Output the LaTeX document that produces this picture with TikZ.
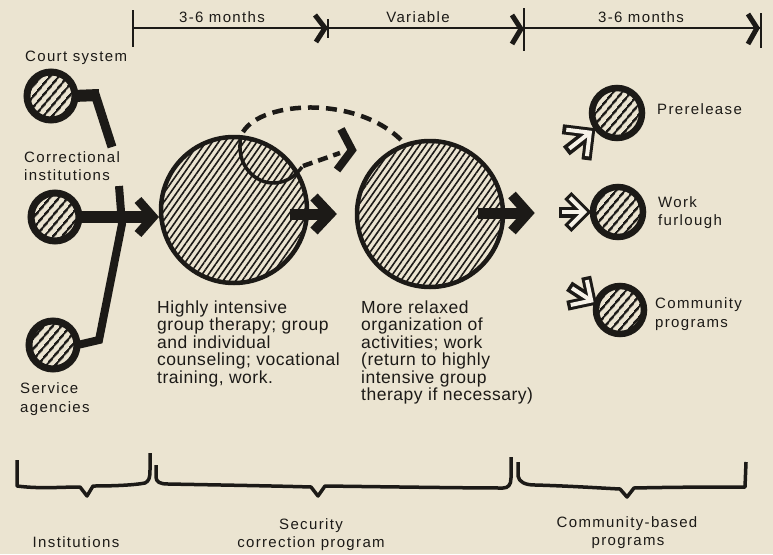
\documentclass[tikz,border=0pt]{standalone}
\usepackage{fontspec}
\setmainfont{Liberation Sans}
\newfontfamily\labf{Liberation Sans}[LetterSpace=9]
\newfontfamily\descf{Liberation Sans}[LetterSpace=3]
\usetikzlibrary{patterns.meta}
\definecolor{paper}{RGB}{235,228,209}
\definecolor{ink}{RGB}{28,26,23}
\definecolor{hole}{RGB}{246,242,232}
\tikzset{
  bigcirc/.style={circle, draw=ink, line width=4.5pt, minimum size=146pt, inner sep=0pt,
    pattern={Lines[angle=55,distance=5.2pt,line width=1.6pt]}, pattern color=ink},
  smallcirc/.style={circle, draw=ink, line width=7pt, minimum size=48pt, inner sep=0pt,
    pattern={Lines[angle=50,distance=6.5pt,line width=2.6pt]}, pattern color=ink},
  lab/.style={font=\labf\fontsize{15}{18}\selectfont, text=ink, inner sep=0pt, anchor=base west},
  labc/.style={font=\labf\fontsize{15}{18}\selectfont, text=ink, inner sep=0pt, anchor=base},
  desc/.style={font=\descf\fontsize{17.5}{17.4}\selectfont, text=ink, inner sep=0pt, anchor=base west},
  inkline/.style={draw=ink, line join=miter},
  openarr/.pic={
    \draw[ink, line width=11pt] (-30,0) -- (-9,0);
    \draw[ink, line width=10pt, line join=miter] (-22,-15) -- (-7,0) -- (-22,15);
    \draw[hole, line width=4pt] (-27,0) -- (-9,0);
    \draw[hole, line width=4pt, line join=miter] (-19.9,-12.9) -- (-7,0) -- (-19.9,12.9);
  }
}
\begin{document}
\begin{tikzpicture}[x=1pt,y=-1pt]
\fill[paper] (0,0) rectangle (773,554);
\useasboundingbox (0,0) rectangle (773,554);

% timeline
\draw[inkline, line width=2pt] (133,28) -- (762,28);
\draw[inkline, line width=2.2pt] (133,10) -- (133,47);
\draw[inkline, line width=5pt] (315,15) -- (325,28) -- (316,42);
\draw[inkline, line width=2pt] (328,19) -- (328,38);
\draw[inkline, line width=5pt] (512,15) -- (521,29) -- (512,44);
\draw[inkline, line width=2pt] (524,8) -- (524,51);
\draw[inkline, line width=5pt] (748,14) -- (757,28) -- (748,44);
\draw[inkline, line width=2pt] (761,13) -- (761,48);
\node[labc] (t1) at (222,22) {3-6 months};
\node[labc] (t2) at (418,22) {Variable};
\node[labc] (t3) at (641,23) {3-6 months};

% left circles
\node[smallcirc] (court) at (51,96) {};
\node[smallcirc] (corr) at (55,217) {};
\node[smallcirc] (serv) at (53,345) {};
\node[lab] (lcourt) at (25,61) {Court system};
\node[lab] (lcorr1) at (24,162) {Correctional};
\node[lab] (lcorr2) at (24,180) {institutions};
\node[lab] (lserv1) at (20,393) {Service};
\node[lab] (lserv2) at (20,412) {agencies};

% left connectors
\draw[inkline, line width=12pt] ([xshift=-3pt]court.east) -- (99,95);
\draw[inkline, line width=9pt] (94,91) -- (112,147);
\draw[inkline, line width=8pt] (119,186) -- (122,224) -- (99,340) -- ([xshift=-3pt]serv.east);
\draw[inkline, line width=12pt] ([xshift=-3pt]corr.east) -- (150,217);
\draw[inkline, line width=9pt] (138,200) -- (153,217) -- (138,234);

% big circles
\node[bigcirc] (c1) at (234,210) {};
\node[bigcirc] (c2) at (430,214) {};

% inner arc and dashed links
\draw[inkline, line width=3.5pt] (241,136) .. controls (235,165) and (255,184) .. (275,183) .. controls (288,182) and (296,175) .. (302,167);
\draw[inkline, line width=4.5pt, dash pattern=on 11pt off 7pt] (243,132) .. controls (262,100) and (360,95) .. (c2.110);
\draw[inkline, line width=4.5pt, dash pattern=on 10pt off 6pt] (303,166) -- (340,153);
\draw[inkline, line width=8pt] (341,129) -- (352,150) -- (337,170);

% solid arrows between circles
\draw[inkline, line width=11pt] (290,214) -- (325,214);
\draw[inkline, line width=10pt] (314,197) -- (330,214) -- (314,231);
\draw[inkline, line width=11pt] (478,213) -- (522,213);
\draw[inkline, line width=10pt] (512,195) -- (528,213) -- (512,231);

% right circles
\node[smallcirc, minimum size=50pt, line width=6.5pt] (pre) at (617,113) {};
\node[smallcirc, minimum size=50pt, line width=6.5pt] (work) at (618,212) {};
\node[smallcirc, minimum size=48pt, line width=6.5pt] (comm) at (620,310) {};
\pic[rotate=38, scale=1.3] at (597,127) {openarr};
\pic[scale=1.1] at (592,212) {openarr};
\pic[rotate=-33, scale=1.15] at (598,305) {openarr};
\node[lab] (lpre) at (657,114) {Prerelease};
\node[lab] (lwork1) at (658,207) {Work};
\node[lab] (lwork2) at (658,225) {furlough};
\node[lab] (lcomm1) at (655,308) {Community};
\node[lab] (lcomm2) at (655,327) {programs};

% descriptions
\node[desc] (d11) at (157,313) {Highly intensive};
\node[desc] (d12) at (157,330.5) {group therapy; group};
\node[desc] (d13) at (157,348) {and individual};
\node[desc] (d14) at (157,365.5) {counseling; vocational};
\node[desc] (d15) at (157,383) {training, work.};
\node[desc] (d21) at (361,313) {More relaxed};
\node[desc] (d22) at (361,330.5) {organization of};
\node[desc] (d23) at (361,348) {activities; work};
\node[desc] (d24) at (361,365.5) {(return to highly};
\node[desc] (d25) at (361,383) {intensive group};
\node[desc] (d26) at (361,400.5) {therapy if necessary)};

% brackets
\draw[inkline, line width=3.5pt, line join=round] (17,460) -- (17,486) .. controls (40,489) and (60,487) .. (80,487) -- (87,496) -- (93,486) .. controls (115,486) and (135,485) .. (145,483) .. controls (149,481) and (150,478) .. (150,470) -- (150,453);
\draw[inkline, line width=3.5pt, line join=round] (156,465) -- (156,477) .. controls (156,482) and (160,484) .. (168,484) .. controls (220,485) and (280,486) .. (311,487) -- (318,496) -- (325,486) .. controls (400,487) and (470,488) .. (503,488) .. controls (508,488) and (511,485) .. (511,478) -- (511,457);
\draw[inkline, line width=3.5pt, line join=round] (518,462) -- (518,476) .. controls (519,482) and (525,485) .. (535,485) .. controls (570,486) and (600,488) .. (620,489) -- (627,497) -- (634,488) .. controls (680,487) and (720,487) .. (745,487) -- (746,462);
\node[labc] (b1) at (76,547) {Institutions};
\node[labc] (b2a) at (311,529) {Security};
\node[labc] (b2b) at (311,547) {correction program};
\node[labc] (b3a) at (627,527) {Community-based};
\node[labc] (b3b) at (628,545) {programs};
\end{tikzpicture}
\end{document}
